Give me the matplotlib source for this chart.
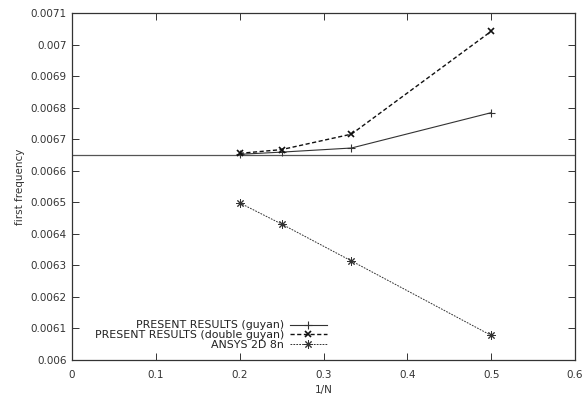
import matplotlib
matplotlib.use("Agg")
import matplotlib.pyplot as plt

inv_n = [0.2, 0.25, 1/3, 0.5]
guyan = [0.006652, 0.006659, 0.006672, 0.006784]
double_guyan = [0.006655, 0.006667, 0.006716, 0.007042]
ansys = [0.006498, 0.006431, 0.006314, 0.006078]
reference_value = 0.00665

x_ticks = [0, 0.1, 0.2, 0.3, 0.4, 0.5, 0.6]
x_labels = ["0", "0.1", "0.2", "0.3", "0.4", "0.5", "0.6"]
y_ticks = [0.006, 0.0061, 0.0062, 0.0063, 0.0064, 0.0065, 0.0066,
           0.0067, 0.0068, 0.0069, 0.007, 0.0071]
y_labels = ["0.006", "0.0061", "0.0062", "0.0063", "0.0064", "0.0065", "0.0066",
            "0.0067", "0.0068", "0.0069", "0.007", "0.0071"]

plt.rcParams['font.family'] = ['DejaVu Sans']
fig = plt.figure(figsize=(5.82, 4.01), dpi=100)
ax = fig.add_axes([0.1237, 0.1022, 0.8643, 0.8654])

ax.axhline(reference_value, color='#555555', lw=0.9)
ax.plot(inv_n, guyan, color='#333333', lw=0.8, ls='-', marker='+', ms=6,
        mew=0.8, label='PRESENT RESULTS (guyan)')
ax.plot(inv_n, double_guyan, color='#111111', lw=1.0, ls=(0, (3, 1.8)), marker='x',
        ms=5, mew=1.2, label='PRESENT RESULTS (double guyan)')
ax.plot(inv_n, ansys, color='#333333', lw=0.7, ls=(0, (1.8, 1.2)), marker=(8, 2, 0),
        ms=6, mew=0.7, label='ANSYS 2D 8n')

ax.set_xlim(0, 0.6)
ax.set_ylim(0.006, 0.0071)
ax.set_xticks(x_ticks)
ax.set_xticklabels(x_labels)
ax.set_yticks(y_ticks)
ax.set_yticklabels(y_labels)
ax.tick_params(direction='in', length=5, width=0.7, top=True, right=True,
               labelsize=7.5, colors='#333333')
ax.tick_params(axis='y', pad=4)
ax.tick_params(axis='x', pad=7)
for s in ax.spines.values():
    s.set_color('#333333')
    s.set_linewidth(0.9)

ax.set_xlabel('1/N', fontsize=7.5, color='#333333', labelpad=4)
ax.set_ylabel('first frequency', fontsize=7.5, color='#333333', labelpad=4)

leg = ax.legend(loc='upper right', bbox_to_anchor=(0.507, 0.114), frameon=False,
                markerfirst=False, fontsize=7.9, handlelength=3.4,
                labelspacing=-0.02, borderpad=0, handletextpad=0.5,
                borderaxespad=0)
for t in leg.get_texts():
    t.set_ha('right')
    t.set_color('#222222')
leg._legend_box.align = 'right'

fig.savefig('out.png', dpi=100)
